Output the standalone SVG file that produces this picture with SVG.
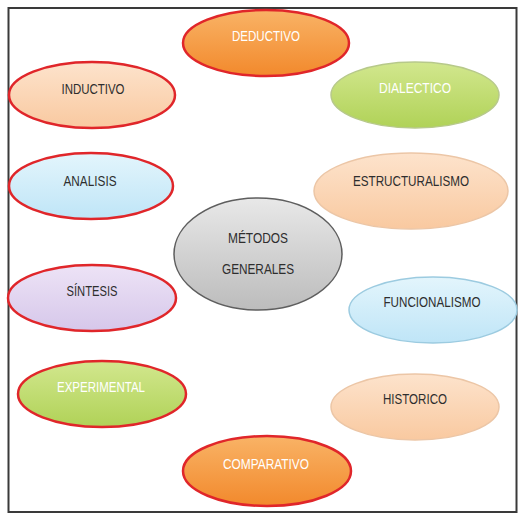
<svg xmlns="http://www.w3.org/2000/svg" width="522" height="516" viewBox="0 0 522 516">
<style>
  text { font-family: "Liberation Sans Narrow", "Liberation Sans", Arial, sans-serif; font-size: 14.5px; text-anchor: middle; }
  .dk { fill: #2e2e2e; }
  .wt { fill: #ffffff; }
  .red { stroke: #e0262a; stroke-width: 2.5; }
</style>
<defs>
  <linearGradient id="gOrange" x1="0" y1="0" x2="0" y2="1"><stop offset="0" stop-color="#f9b366"/><stop offset="1" stop-color="#f2892c"/></linearGradient>
  <linearGradient id="gPeach" x1="0" y1="0" x2="0" y2="1"><stop offset="0" stop-color="#fde3cc"/><stop offset="1" stop-color="#f9c9a0"/></linearGradient>
  <linearGradient id="gBlue" x1="0" y1="0" x2="0" y2="1"><stop offset="0" stop-color="#e3f5fc"/><stop offset="1" stop-color="#bfe5f7"/></linearGradient>
  <linearGradient id="gLav" x1="0" y1="0" x2="0" y2="1"><stop offset="0" stop-color="#ede3f6"/><stop offset="1" stop-color="#d6c7ea"/></linearGradient>
  <linearGradient id="gGreen" x1="0" y1="0" x2="0" y2="1"><stop offset="0" stop-color="#d2e78e"/><stop offset="1" stop-color="#b0d257"/></linearGradient>
  <linearGradient id="gGray" x1="0" y1="0" x2="0" y2="1"><stop offset="0" stop-color="#e8e8e8"/><stop offset="1" stop-color="#bcbcbc"/></linearGradient>
</defs>
<rect x="0" y="0" width="522" height="516" fill="#ffffff"/>
<rect x="8.5" y="8" width="508" height="504" fill="none" stroke="#3a3a3a" stroke-width="2"/>
<g id="connectors"></g>
<g id="deductivo">
  <ellipse cx="266" cy="43" rx="83" ry="33" fill="url(#gOrange)" class="red"/>
  <text x="266" y="41" class="wt" textLength="68" lengthAdjust="spacingAndGlyphs">DEDUCTIVO</text>
</g>
<g id="inductivo">
  <ellipse cx="92" cy="95" rx="83" ry="33" fill="url(#gPeach)" class="red"/>
  <text x="93" y="94" class="dk" textLength="63" lengthAdjust="spacingAndGlyphs">INDUCTIVO</text>
</g>
<g id="dialectico">
  <ellipse cx="415" cy="95" rx="84" ry="33" fill="url(#gGreen)" stroke="#b7c98a" stroke-width="1.5"/>
  <text x="415" y="93" class="wt" textLength="72" lengthAdjust="spacingAndGlyphs">DIALECTICO</text>
</g>
<g id="analisis">
  <ellipse cx="91" cy="186" rx="82" ry="33" fill="url(#gBlue)" class="red"/>
  <text x="90" y="186" class="dk" textLength="53" lengthAdjust="spacingAndGlyphs">ANALISIS</text>
</g>
<g id="estructuralismo">
  <ellipse cx="411" cy="191" rx="97" ry="38" fill="url(#gPeach)" stroke="#ecc6a6" stroke-width="1.5"/>
  <text x="411" y="186" class="dk" textLength="116" lengthAdjust="spacingAndGlyphs">ESTRUCTURALISMO</text>
</g>
<g id="metodos">
  <ellipse cx="258" cy="254" rx="84" ry="56" fill="url(#gGray)" stroke="#5e5e5e" stroke-width="1.5"/>
  <text x="258" y="243" class="dk" textLength="60" lengthAdjust="spacingAndGlyphs">MÉTODOS</text>
  <text x="258" y="274" class="dk" textLength="72" lengthAdjust="spacingAndGlyphs">GENERALES</text>
</g>
<g id="sintesis">
  <ellipse cx="92" cy="298" rx="84" ry="33" fill="url(#gLav)" class="red"/>
  <text x="92" y="296" class="dk" textLength="51" lengthAdjust="spacingAndGlyphs">SÍNTESIS</text>
</g>
<g id="funcionalismo">
  <ellipse cx="433" cy="310" rx="84" ry="33" fill="url(#gBlue)" stroke="#9ccbe0" stroke-width="1.5"/>
  <text x="432" y="307" class="dk" textLength="97" lengthAdjust="spacingAndGlyphs">FUNCIONALISMO</text>
</g>
<g id="experimental">
  <ellipse cx="102" cy="394" rx="84" ry="33" fill="url(#gGreen)" class="red"/>
  <text x="101" y="392" class="wt" textLength="88" lengthAdjust="spacingAndGlyphs">EXPERIMENTAL</text>
</g>
<g id="historico">
  <ellipse cx="415" cy="407" rx="84" ry="33" fill="url(#gPeach)" stroke="#ecc6a6" stroke-width="1.5"/>
  <text x="415" y="404" class="dk" textLength="64" lengthAdjust="spacingAndGlyphs">HISTORICO</text>
</g>
<g id="comparativo">
  <ellipse cx="267" cy="471" rx="84" ry="35" fill="url(#gOrange)" class="red"/>
  <text x="266" y="469" class="wt" textLength="86" lengthAdjust="spacingAndGlyphs">COMPARATIVO</text>
</g>
</svg>
